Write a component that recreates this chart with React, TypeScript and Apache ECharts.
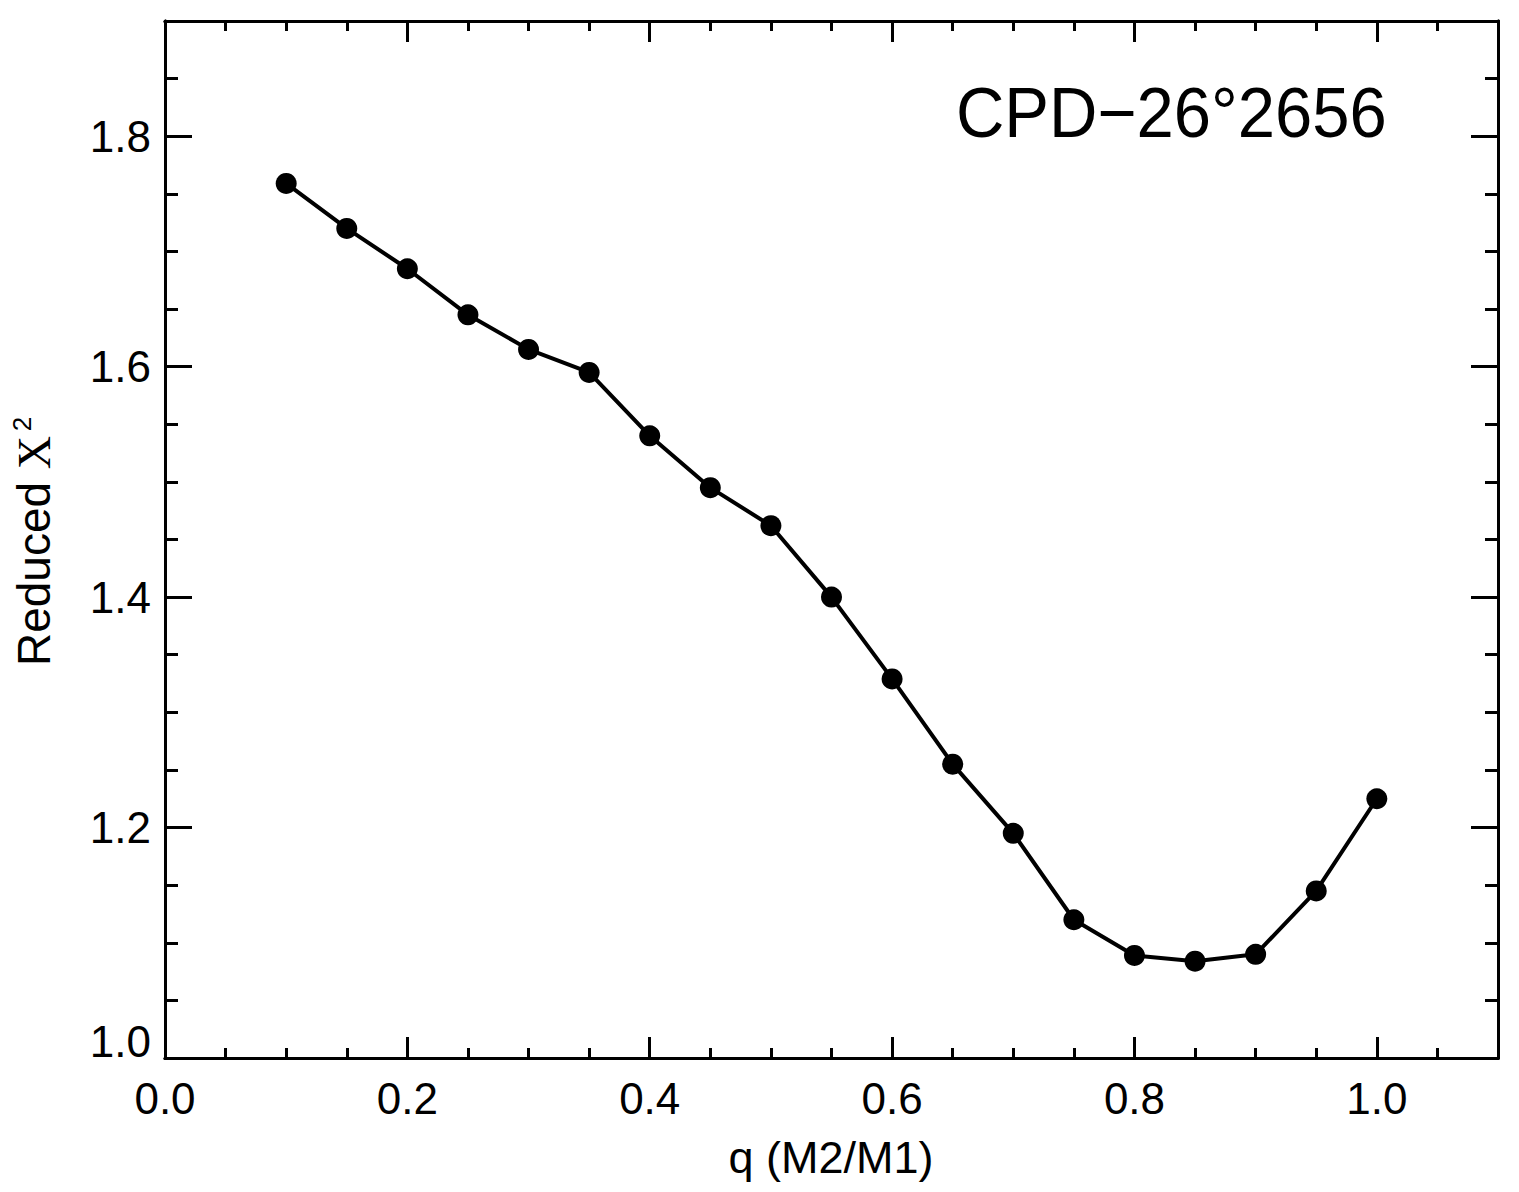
import React, { useEffect, useRef } from "react";
import * as echarts from "echarts";

const qValues = [0.1, 0.15, 0.2, 0.25, 0.3, 0.35, 0.4, 0.45, 0.5, 0.55, 0.6, 0.65, 0.7, 0.75, 0.8, 0.85, 0.9, 0.95, 1.0];
const chi2Values = [1.759, 1.72, 1.685, 1.645, 1.615, 1.595, 1.54, 1.495, 1.462, 1.4, 1.329, 1.255, 1.195, 1.12, 1.089, 1.084, 1.09, 1.145, 1.225];

const xRange = [0, 1.1];
const yRange = [1.0, 1.9];
const xMajorStep = 0.2;
const yMajorStep = 0.2;
const minorStep = 0.05;

const titleText = "CPD\u221226\u00b02656";
const xAxisTitle = "q (M2/M1)";

const FONT = "'Liberation Sans', Helvetica, Arial, sans-serif";
const SERIF = "'Liberation Serif', 'Times New Roman', serif";

function isMajor(v: number, step: number) {
  const r = v / step;
  return Math.abs(r - Math.round(r)) < 1e-6;
}

export default function App() {
  const ref = useRef<HTMLDivElement>(null);
  useEffect(() => {
    if (!ref.current) return;
    const chart = echarts.init(ref.current, null, { renderer: "svg" });
    const axisLine = { show: true, onZero: false, lineStyle: { color: "#000", width: 3 } };
    const mkX = (pos: string, interval: number, len: number, labels: boolean) => ({
      type: "value",
      position: pos,
      min: xRange[0],
      max: xRange[1],
      interval,
      axisLine,
      axisTick: { show: true, inside: true, length: len, lineStyle: { color: "#000", width: 3 } },
      axisLabel: labels
        ? {
            show: true,
            margin: 18,
            fontFamily: FONT,
            fontSize: 44,
            color: "#000",
            formatter: (v: number) => (isMajor(v, xMajorStep) && v <= 1.0001 ? v.toFixed(1) : ""),
          }
        : { show: false },
      splitLine: { show: false },
    });
    const mkY = (pos: string, interval: number, len: number, labels: boolean) => ({
      type: "value",
      position: pos,
      min: yRange[0],
      max: yRange[1],
      interval,
      axisLine,
      axisTick: { show: true, inside: true, length: len, lineStyle: { color: "#000", width: 3 } },
      axisLabel: labels
        ? {
            show: true,
            margin: 14,
            fontFamily: FONT,
            fontSize: 44,
            color: "#000",
            formatter: (v: number) => {
              if (!(isMajor(v - 1.0, yMajorStep) && v <= 1.8001)) return "";
              if (Math.abs(v - yRange[0]) < 1e-6) return "{low|" + v.toFixed(1) + "}";
              return v.toFixed(1);
            },
            rich: {
              low: { fontFamily: FONT, fontSize: 44, color: "#000", padding: [0, 0, 34, 0] },
            },
          }
        : { show: false },
      splitLine: { show: false },
    });

    chart.setOption({
      animation: false,
      backgroundColor: "#fff",
      grid: { left: 165, right: 21, top: 21, bottom: 134, containLabel: false },
      xAxis: [
        mkX("bottom", xMajorStep, 21, true),
        mkX("bottom", minorStep, 10, false),
        mkX("top", xMajorStep, 21, false),
        mkX("top", minorStep, 10, false),
      ],
      yAxis: [
        mkY("left", yMajorStep, 27, true),
        mkY("left", minorStep, 13, false),
        mkY("right", yMajorStep, 27, false),
        mkY("right", minorStep, 13, false),
      ],
      series: [
        {
          type: "line",
          xAxisIndex: 0,
          yAxisIndex: 0,
          data: qValues.map((q, i) => [q, chi2Values[i]]),
          symbol: "circle",
          symbolSize: 21,
          showSymbol: true,
          itemStyle: { color: "#000" },
          lineStyle: { color: "#000", width: 4 },
        },
      ],
      graphic: [
        {
          type: "group",
          x: 956,
          y: 113,
          scaleY: 1.06,
          children: [
            {
              type: "text",
              x: 0,
              y: 0,
              style: {
                text: titleText,
                fontFamily: FONT,
                fontSize: 67,
                fill: "#000",
                align: "left",
                verticalAlign: "middle",
              },
            },
          ],
        },
        {
          type: "text",
          x: 831,
          y: 1157,
          style: {
            text: xAxisTitle,
            fontFamily: FONT,
            fontSize: 45,
            fill: "#000",
            align: "center",
            verticalAlign: "middle",
          },
        },
        {
          type: "text",
          x: 34,
          y: 551,
          rotation: Math.PI / 2,
          style: {
            text: "{a|Reduced }{b|X}",
            fill: "#000",
            align: "center",
            verticalAlign: "middle",
            rich: {
              a: { fontFamily: FONT, fontSize: 46, fill: "#000" },
              b: { fontFamily: SERIF, fontSize: 46, fill: "#000" },
            },
          },
        },
        {
          type: "text",
          x: 22,
          y: 424,
          rotation: Math.PI / 2,
          style: {
            text: "2",
            fontFamily: FONT,
            fontSize: 26,
            fill: "#000",
            align: "center",
            verticalAlign: "middle",
          },
        },
      ],
    });
    return () => chart.dispose();
  }, []);
  return (
    <div
      ref={ref}
      style={{ position: "absolute", left: 0, top: 0, width: 1519, height: 1192 }}
    />
  );
}
